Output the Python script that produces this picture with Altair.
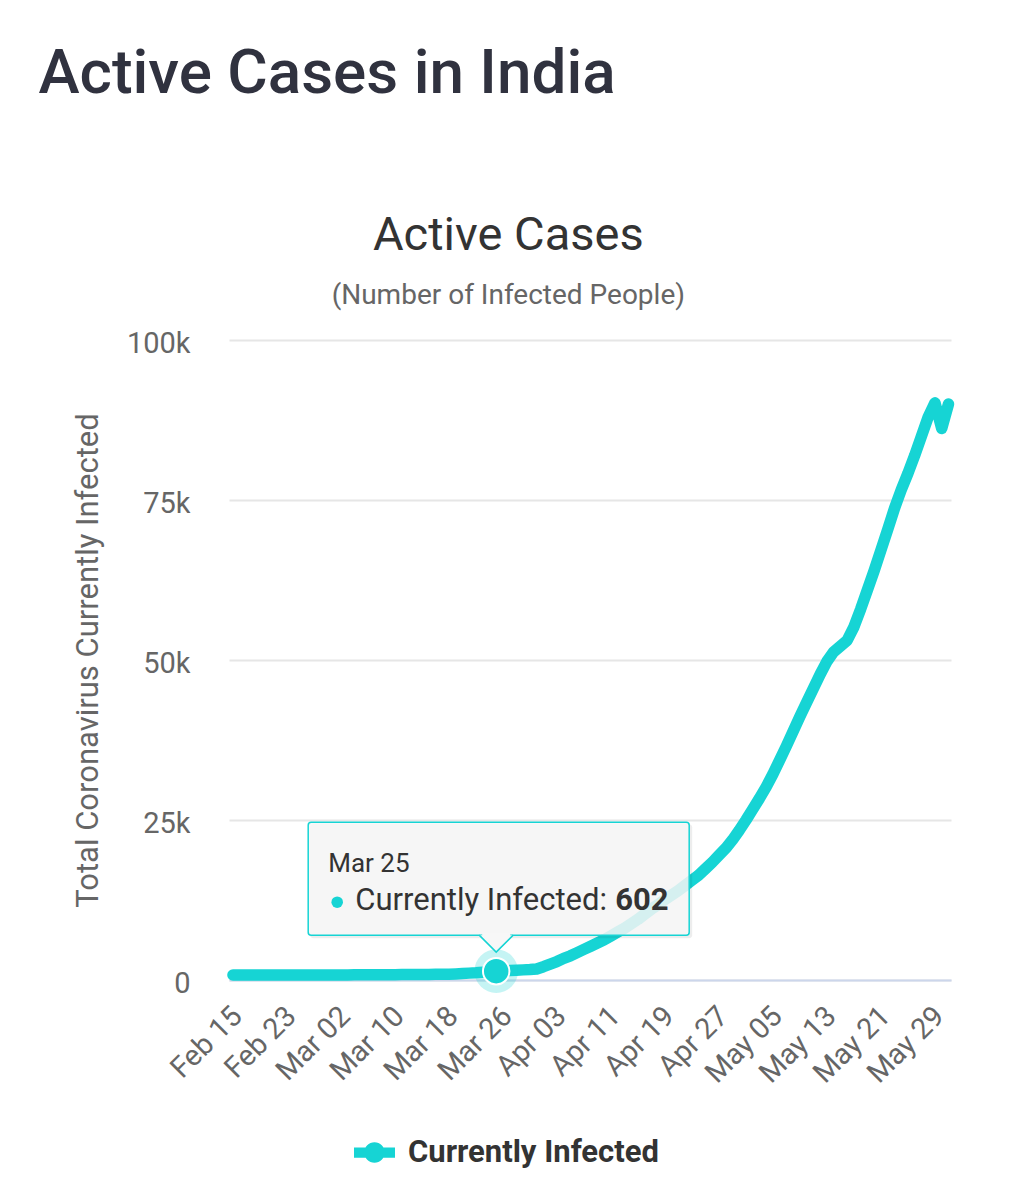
import altair as alt
import pandas as pd

# ---------------- data ----------------
FIRST_DAY = "2020-02-15"
LAST_DAY = "2020-05-31"
SERIES_NAME = "Currently Infected"

feb_values = [3, 3, 3, 3, 3, 3, 0, 0, 0, 0, 0, 0, 0, 0, 0]
mar_values = [0, 2, 3, 25, 27, 28, 31, 36, 40, 53, 59, 69, 70, 88, 96, 108, 123, 134,
              167, 221, 294, 344, 433, 509, 602, 650, 700, 750, 800, 850, 950]
apr_values = [1300, 1700, 2100, 2600, 3000, 3500, 4000, 4500, 5000, 5500, 6100, 6700,
              7300, 8000, 8700, 9500, 10300, 11000, 11800, 12500, 13200, 14000, 14800,
              15600, 16600, 17600, 18700, 19800, 21100, 22600]
may_values = [24200, 25900, 27600, 29400, 31400, 33600, 35800, 38100, 40400, 42600,
              44800, 47000, 49000, 50500, 51400, 52300, 54400, 57200, 60200, 63200,
              66400, 69600, 72900, 75800, 78400, 81200, 84200, 87200, 89400, 85400, 89200]

active = feb_values + mar_values + apr_values + may_values
dates = list(pd.date_range(FIRST_DAY, LAST_DAY, freq="D").strftime("%Y-%m-%dT00:00:00"))

TOOLTIP_DAY = "2020-03-25T00:00:00"

tick_days = ["2020-02-15", "2020-02-23", "2020-03-02", "2020-03-10", "2020-03-18",
             "2020-03-26", "2020-04-03", "2020-04-11", "2020-04-19", "2020-04-27",
             "2020-05-05", "2020-05-13", "2020-05-21", "2020-05-29"]
y_ticks = [0, 25000, 50000, 75000, 100000]

# ---------------- styling ----------------
CYAN = "#16d4d4"
FONT = "Roboto"

df = pd.DataFrame({"date": dates, "active": active, "series": SERIES_NAME})
tip = df[df["date"] == TOOLTIP_DAY].copy()


def dt(s, hours=0):
    t = pd.Timestamp(s)
    return alt.DateTime(year=t.year, month=t.month, date=t.day, hours=hours)


# axis range padded a little beyond the first / last day (as in the original)
x_domain = [dt("2020-02-14", hours=10), dt("2020-05-31", hours=9)]

x_enc = alt.X(
    "date:T",
    scale=alt.Scale(domain=x_domain),
    axis=alt.Axis(
        values=[dt(d) for d in tick_days],
        format="%b %d",
        labelAngle=-45,
        labelAlign="right",
        labelBaseline="middle",
        labelFontSize=29,
        labelColor="#666666",
        labelFont=FONT,
        labelPadding=31,
        labelOffset=4,
        labelOverlap=False,
        ticks=False,
        grid=False,
        domainColor="#ccd6eb",
        domainWidth=2,
        title=None,
    ),
)
y_enc = alt.Y(
    "active:Q",
    scale=alt.Scale(domain=[0, 100000], nice=False),
    axis=alt.Axis(
        values=y_ticks,
        labelExpr="datum.value == 0 ? '0' : (datum.value / 1000) + 'k'",
        labelFontSize=29,
        labelColor="#666666",
        labelFont=FONT,
        labelPadding=39,
        labelOffset=3,
        ticks=False,
        domain=False,
        gridColor="#e6e6e6",
        gridWidth=2,
        title="Total Coronavirus Currently Infected",
        titleFont=FONT,
        titleFontSize=31,
        titleFontWeight="normal",
        titleColor="#666666",
        titlePadding=22,
    ),
)

legend_path = ("M-1,-0.25L1,-0.25L1,0.25L-1,0.25Z "
               "M-0.5,0A0.5,0.5,0,1,1,0.5,0A0.5,0.5,0,1,1,-0.5,0Z")

line = alt.Chart(df).mark_line(
    strokeWidth=11.5, strokeCap="round", strokeJoin="round", yOffset=-5, color=CYAN
).encode(x=x_enc, y=y_enc)

base_tip = alt.Chart(tip).encode(x="date:T", y="active:Q")
base_tip2 = alt.Chart(tip).encode(x="date:T", x2="date:T", y="active:Q", y2="active:Q")

halo = base_tip.mark_circle(size=1900, color=CYAN, opacity=0.25, yOffset=-5)
marker = base_tip.mark_circle(
    size=700, opacity=1, stroke="white", strokeWidth=2, yOffset=-5
).encode(
    color=alt.Color(
        "series:N",
        scale=alt.Scale(range=[CYAN]),
        legend=alt.Legend(
            orient="none",
            legendX=125,
            legendY=792,
            title=None,
            symbolType=legend_path,
            symbolSize=1681,
            symbolFillColor=CYAN,
            symbolStrokeWidth=0,
            symbolOpacity=1,
            labelFont=FONT,
            labelFontSize=31,
            labelFontWeight="bold",
            labelColor="#333333",
            labelOffset=13,
            labelLimit=0,
        ),
    )
)

shadow = base_tip2.mark_rect(
    xOffset=-186, x2Offset=196, yOffset=-152, y2Offset=-38,
    color="#000000", opacity=0.07, cornerRadius=3,
)
box = base_tip2.mark_rect(
    xOffset=-188, x2Offset=193, yOffset=-154, y2Offset=-41,
    fill="#f7f7f7", fillOpacity=0.85, stroke=CYAN, strokeWidth=1.5, cornerRadius=3,
)
pointer = base_tip.mark_point(
    shape="M-1,0L0,1L1,0", size=1156, filled=True, fill="#f7f7f7", fillOpacity=1,
    stroke=CYAN, strokeWidth=1.5, opacity=1, yOffset=-41,
)
cover = base_tip2.mark_rect(
    xOffset=-14, x2Offset=14, yOffset=-43, y2Offset=-39.5, fill="#f7f7f7",
)

date_txt = base_tip.mark_text(
    align="left", baseline="alphabetic", dx=-168, dy=-104,
    font=FONT, fontSize=26, color="#333333",
).encode(text=alt.Text("date:T", format="%b %d"))

bullet = base_tip.mark_circle(size=133, color=CYAN, opacity=1, xOffset=-159, yOffset=-74)

name_txt = base_tip.mark_text(
    align="left", baseline="alphabetic", dx=-141, dy=-66,
    font=FONT, fontSize=31, color="#333333",
).transform_calculate(lbl="datum.series + ':'").encode(text="lbl:N")

val_txt = base_tip.mark_text(
    align="left", baseline="alphabetic", dx=119, dy=-66,
    font=FONT, fontSize=31, fontWeight="bold", color="#333333",
).encode(text=alt.Text("active:Q", format="d"))

inner = alt.layer(
    line, halo, marker, shadow, box, pointer, cover, date_txt, bullet, name_txt, val_txt
).properties(
    width=722,
    height=640,
    title=alt.TitleParams(
        text="Active Cases",
        subtitle="(Number of Infected People)",
        font=FONT,
        fontSize=47,
        fontWeight="normal",
        color="#333333",
        subtitleFont=FONT,
        subtitleFontSize=28,
        subtitleColor="#666666",
        subtitlePadding=22,
        anchor="middle",
        frame="bounds",
        dx=-5,
        offset=18,
    ),
)

chart = alt.vconcat(inner).properties(
    title=alt.TitleParams(
        text="Active Cases in India",
        font=FONT,
        fontSize=62,
        fontWeight=500,
        color="#30323f",
        anchor="start",
        dx=-34,
        offset=106,
    ),
    padding={"left": 30, "top": 35, "right": 5, "bottom": 5},
).configure_view(strokeWidth=0)

chart.save("out.html", embed_options={"renderer": "svg", "actions": False})
